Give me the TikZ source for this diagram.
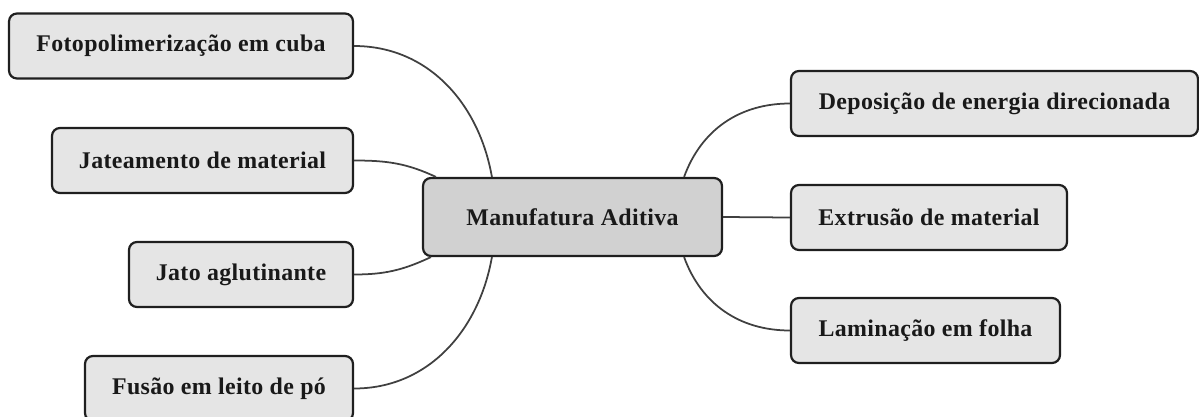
\documentclass[tikz,border=0pt]{standalone}
\usepackage{fontspec}
\setmainfont{Liberation Serif}
\newfontfamily\boxfont[LetterSpace=1.5]{Liberation Serif}

\begin{document}
\begin{tikzpicture}[x=0.02cm,y=-0.02cm,
    leaf/.style={draw=black!88, line width=1.25pt, rounded corners=4.5pt,
      fill=black!10, text=black!90, inner sep=0pt, minimum height=1.3cm,
      font={\boxfont\fontsize{13.6}{16}\selectfont\bfseries}},
    root/.style={leaf, fill=black!18, minimum height=1.56cm},
    link/.style={draw=black!75, line width=1pt}]
                % Fix the page to the size of the picture
                \useasboundingbox (0,0) rectangle (1199,416);

                % Central topic
                \node[root, minimum width=5.98cm] (ma) at (572.5,217) {Manufatura Aditiva};

                % Processes on the left
                \node[leaf, minimum width=6.88cm] (foto) at (181,46) {Fotopolimerização em cuba};
                \node[leaf, minimum width=6.02cm] (jat) at (202.5,160.5) {Jateamento de material};
                \node[leaf, minimum width=4.48cm] (agl) at (241,274.5) {Jato aglutinante};
                \node[leaf, minimum width=5.36cm] (fus) at (219,388.5) {Fusão em leito de pó};

                % Processes on the right
                \node[leaf, minimum width=8.14cm] (ded) at (994.5,103.5) {Deposição de energia direcionada};
                \node[leaf, minimum width=5.52cm] (ext) at (929,217.5) {Extrusão de material};
                \node[leaf, minimum width=5.38cm] (lam) at (925.5,330.5) {Laminação em folha};

                % Branches
                \draw[link] (foto.east) to[out=0,in=100] ([xshift=1.4cm]ma.north west);
                \draw[link] (jat.east) to[out=0,in=155] ([xshift=0.28cm]ma.north west);
                \draw[link] (agl.east) to[out=0,in=205] ([xshift=0.18cm]ma.south west);
                \draw[link] (fus.east) to[out=0,in=260] ([xshift=1.4cm]ma.south west);
                \draw[link] (ded.west) to[out=180,in=70] ([xshift=-0.78cm]ma.north east);
                \draw[link] (ma.east) -- (ext.west);
                \draw[link] (lam.west) to[out=180,in=290] ([xshift=-0.78cm]ma.south east);
\end{tikzpicture}
\end{document}
